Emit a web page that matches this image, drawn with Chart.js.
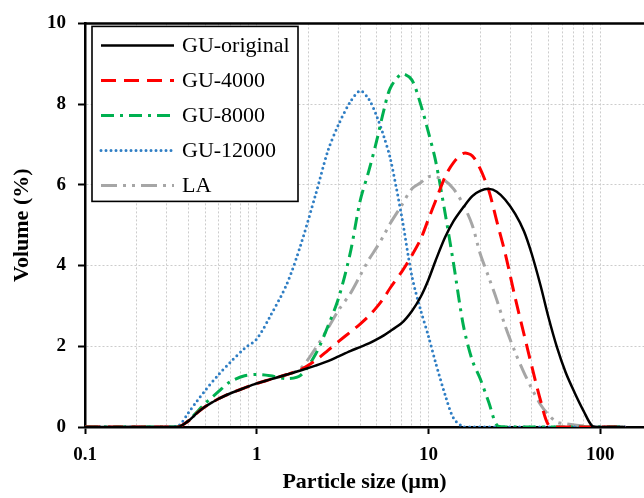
<!DOCTYPE html>
<html>
<head>
<meta charset="utf-8">
<script src="https://cdn.jsdelivr.net/npm/chart.js@4/dist/chart.umd.min.js"></script>
<style>
  html, body { margin: 0; padding: 0; background: #fff; overflow: hidden; }
</style>
</head>
<body>
<canvas id="myChart" width="644" height="498"></canvas>
<script>
// particle size classes (um)
const sizes = [0.1, 0.2, 0.3, 0.35, 0.4, 0.45, 0.5, 0.6, 0.7, 0.85,
  1, 1.2, 1.5, 1.8, 2.2, 2.6, 3, 3.5, 4, 4.5,
  5, 5.5, 6, 7, 8, 9, 10, 11, 12.5, 14,
  16, 18, 20, 22.5, 25, 28, 32, 36, 40, 45,
  50, 56, 63, 71, 80, 90, 100, 112, 125, 140];

// volume (%) per series
const guOriginal = [0, 0, 0, 0, 0.15, 0.35, 0.5, 0.7, 0.83, 0.97,
  1.08, 1.18, 1.3, 1.4, 1.52, 1.63, 1.75, 1.88, 1.98, 2.07,
  2.17, 2.27, 2.38, 2.58, 2.87, 3.22, 3.65, 4.12, 4.7, 5.1,
  5.45, 5.72, 5.85, 5.9, 5.83, 5.63, 5.28, 4.85, 4.28, 3.5,
  2.72, 1.98, 1.35, 0.85, 0.4, 0.02, 0, 0, 0, 0];
const gu4000 = [0, 0, 0, 0, 0.15, 0.35, 0.5, 0.7, 0.83, 0.97,
  1.08, 1.18, 1.3, 1.42, 1.65, 1.9, 2.12, 2.35, 2.55, 2.75,
  2.97, 3.2, 3.45, 3.85, 4.25, 4.65, 5.15, 5.6, 6.2, 6.55,
  6.78, 6.72, 6.4, 5.85, 5.1, 4.3, 3.2, 2.3, 1.5, 0.65,
  0.05, 0, 0, 0, 0, 0, 0, 0, 0, 0];
const gu8000 = [0, 0, 0, 0, 0.15, 0.38, 0.58, 0.88, 1.12, 1.27,
  1.3, 1.27, 1.2, 1.28, 1.8, 2.5, 3.2, 4.3, 5.6, 6.35,
  7.1, 7.85, 8.4, 8.75, 8.6, 8.0, 7.3, 6.6, 5.3, 4.05,
  2.5, 1.65, 1.2, 0.6, 0.05, 0, 0, 0, 0, 0,
  0, 0, 0, 0, 0, 0, 0, 0, 0, 0];
const gu12000 = [0, 0, 0, 0.03, 0.35, 0.65, 0.9, 1.3, 1.6, 1.95,
  2.18, 2.75, 3.55, 4.5, 5.75, 6.85, 7.5, 8.05, 8.33, 8.12,
  7.7, 7.2, 6.65, 5.2, 3.75, 2.9, 2.25, 1.6, 0.8, 0.22,
  0, 0, 0, 0, 0, 0, 0, 0, 0, 0,
  0, 0, 0, 0, 0, 0, 0, 0, 0, 0];
const la = [0, 0, 0, 0, 0.15, 0.35, 0.5, 0.7, 0.83, 0.97,
  1.08, 1.18, 1.3, 1.45, 1.95, 2.45, 2.9, 3.3, 3.75, 4.15,
  4.45, 4.75, 5.05, 5.5, 5.9, 6.05, 6.2, 6.2, 6.1, 5.9,
  5.5, 5.0, 4.3, 3.7, 3.15, 2.5, 1.85, 1.35, 0.95, 0.55,
  0.3, 0.12, 0.08, 0.05, 0.03, 0, 0, 0, 0, 0];

const labels = ['GU-original', 'GU-4000', 'GU-8000', 'GU-12000', 'LA'];
const xTickLabels = [0.1, 1, 10, 100];
const yTicks = [0, 2, 4, 6, 8, 10];

const serif = "'Liberation Serif', 'Times New Roman', serif";

function points(vals) {
  return sizes.map((s, i) => ({ x: s, y: vals[i] }));
}

// all grid positions 0.1 .. 100 (1-9 in each decade)
const gridValues = [];
[0.1, 1, 10].forEach(d => {
  for (let m = 1; m <= 9; m++) gridValues.push(+(m * d).toPrecision(3));
});
gridValues.push(100);

function isMajor(v) {
  return xTickLabels.some(t => Math.abs(t - v) < 1e-9);
}

// top frame line
const frame = {
  id: 'frame',
  afterDraw(chart) {
    const { ctx, chartArea } = chart;
    ctx.save();
    ctx.strokeStyle = '#000';
    ctx.lineWidth = 2.5;
    ctx.beginPath();
    ctx.moveTo(chartArea.left - 1, chartArea.top);
    ctx.lineTo(chartArea.right, chartArea.top);
    ctx.stroke();
    ctx.restore();
  }
};

// boxed legend inside the plot, top left
const boxLegend = {
  id: 'boxLegend',
  afterDraw(chart) {
    const { ctx, chartArea } = chart;
    const x0 = chartArea.left + 7, y0 = chartArea.top + 3;
    const w = 206, h = 175;
    ctx.save();
    ctx.fillStyle = '#fff';
    ctx.fillRect(x0, y0, w, h);
    ctx.strokeStyle = '#000';
    ctx.lineWidth = 1.6;
    ctx.strokeRect(x0, y0, w, h);
    ctx.font = '22px ' + serif;
    ctx.textBaseline = 'middle';
    chart.data.datasets.forEach((ds, i) => {
      const y = y0 + 19 + i * 35;
      ctx.strokeStyle = ds.borderColor;
      ctx.lineWidth = ds.borderWidth;
      ctx.lineCap = ds.borderCapStyle || 'butt';
      ctx.setLineDash(ds.borderDash || []);
      ctx.beginPath();
      ctx.moveTo(x0 + 9, y);
      ctx.lineTo(x0 + 82, y);
      ctx.stroke();
      ctx.setLineDash([]);
      ctx.fillStyle = '#000';
      ctx.fillText(ds.label, x0 + 90, y + 1);
    });
    ctx.restore();
  }
};

const ctx = document.getElementById('myChart').getContext('2d');
const chart = new Chart(ctx, {
  type: 'line',
  data: {
    datasets: [
      { label: labels[0], data: points(guOriginal), borderColor: '#000000', borderWidth: 2.5 },
      { label: labels[1], data: points(gu4000), borderColor: '#ff0000', borderWidth: 3, borderDash: [15, 8] },
      { label: labels[2], data: points(gu8000), borderColor: '#00b050', borderWidth: 3, borderDash: [13, 6, 3, 6] },
      { label: labels[3], data: points(gu12000), borderColor: '#2f7ec4', borderWidth: 3, borderDash: [0, 5], borderCapStyle: 'round' },
      { label: labels[4], data: points(la), borderColor: '#a6a6a6', borderWidth: 3, borderDash: [16, 6, 3, 6, 3, 6] }
    ]
  },
  options: {
    responsive: false,
    animation: false,
    layout: { padding: { top: 20, right: 0, left: 0, bottom: 0 } },
    elements: {
      point: { radius: 0 },
      line: { tension: 0.3, fill: false }
    },
    plugins: {
      legend: { display: false },
      tooltip: { enabled: false }
    },
    scales: {
      x: {
        type: 'logarithmic',
        min: 0.1,
        max: 180,
        afterBuildTicks: scale => { scale.ticks = gridValues.map(v => ({ value: v })); },
        afterFit: scale => { scale.height = 71; },
        ticks: {
          autoSkip: false,
          maxRotation: 0,
          padding: 10,
          color: '#000',
          font: { family: serif, size: 19, weight: 'bold' },
          callback: v => isMajor(v) ? String(v) : ''
        },
        grid: {
          color: c => (c.tick && Math.abs(c.tick.value - 0.1) > 1e-9) ? '#cccccc' : 'transparent',
          lineWidth: 1,
          tickLength: 7,
          tickWidth: c => (c.tick && isMajor(c.tick.value)) ? 2 : 0,
          tickColor: '#000'
        },
        border: { display: true, color: '#000', width: 2.5, dash: [2, 2] },
        title: {
          display: true,
          text: 'Particle size (\u00b5m)',
          color: '#000',
          font: { family: serif, size: 22, weight: 'bold' },
          padding: { top: 0, bottom: 2 }
        }
      },
      y: {
        min: 0,
        max: 10,
        afterBuildTicks: scale => { scale.ticks = yTicks.map(v => ({ value: v })); },
        afterFit: scale => { scale.width = 85; },
        ticks: {
          padding: 12,
          color: '#000',
          font: { family: serif, size: 19, weight: 'bold' }
        },
        grid: {
          color: c => (c.tick && c.tick.value > 0 && c.tick.value < 10) ? '#cccccc' : 'transparent',
          lineWidth: 1,
          tickLength: 7,
          tickWidth: 2,
          tickColor: '#000'
        },
        border: { display: true, color: '#000', width: 2.5, dash: [2, 2] },
        title: {
          display: true,
          text: 'Volume (%)',
          color: '#000',
          font: { family: serif, size: 22, weight: 'bold' },
          padding: { top: 9, bottom: 0 }
        }
      }
    }
  },
  plugins: [frame, boxLegend]
});
</script>
</body>
</html>
